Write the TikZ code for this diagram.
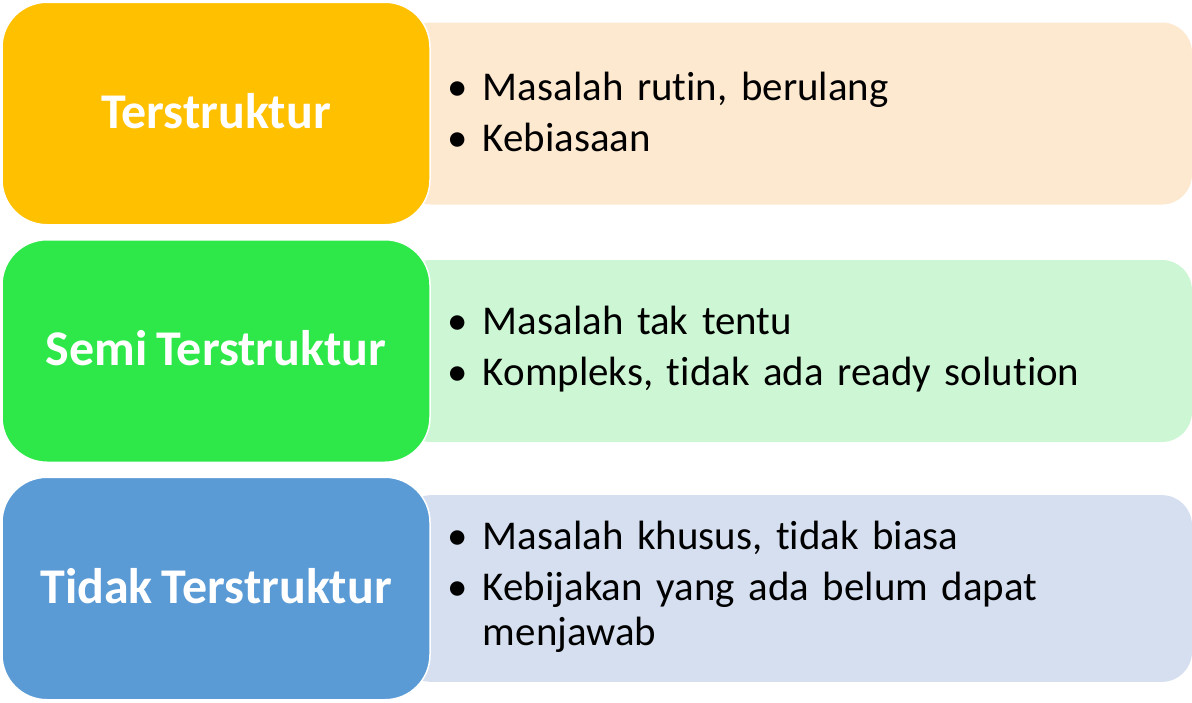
\documentclass[tikz,border=0pt]{standalone}
\usepackage{fontspec}
\setmainfont{Carlito}[RawFeature=-liga,WordSpace=0.8]
\usetikzlibrary{positioning,backgrounds}
\definecolor{KuningTua}{HTML}{FFC000}
\definecolor{HijauTua}{HTML}{2EE84A}
\definecolor{BiruTua}{HTML}{5B9BD5}
\definecolor{KuningMuda}{HTML}{FDE8D0}
\definecolor{HijauMuda}{HTML}{CDF7D4}
\definecolor{BiruMuda}{HTML}{D5DFEF}
\newcommand{\butir}[1]{\par\noindent\makebox[35pt][l]{\textbullet}%
  \parbox[t]{660pt}{\raggedright #1}}
\newcommand{\ujung}{\par\nointerlineskip\vbox to 26pt{}}

\begin{document}
\begin{tikzpicture}[
      x=1pt,y=-1pt,
      node distance=13.5pt,
      kategori/.style={draw=white,line width=1.5pt,rounded corners=45pt,
                       minimum width=428pt,minimum height=222.5pt,inner sep=0pt,
                       text depth=6pt,
                       text=white,font=\fontsize{50}{60}\selectfont\bfseries},
      uraian/.style={rounded corners=30pt,minimum width=791pt,minimum height=182pt,
                     inner xsep=47pt,text width=697pt,align=left,
                     font=\fontsize{40.9}{45}\selectfont\setlength{\parskip}{6pt}},
    ]
    \useasboundingbox (0,0) rectangle (1192,702);
    \node[kategori,fill=KuningTua] (ters) at (216,113.5) {Terstruktur};
    \node[kategori,fill=HijauTua,below=of ters] (semi) {Semi Terstruktur};
    \node[kategori,fill=BiruTua,below=of semi]  (tidak) {Tidak Terstruktur};

    \begin{scope}[on background layer]
      \node[uraian,fill=KuningMuda,right=-30pt of ters] (ciriters)
        {\butir{Masalah rutin, berulang}\butir{Kebiasaan}\ujung};
      \node[uraian,fill=HijauMuda,right=-30pt of semi] (cirisemi)
        {\butir{Masalah tak tentu}\butir{Kompleks, tidak ada ready solution}\ujung};
      \node[uraian,fill=BiruMuda,right=-30pt of tidak] (ciritidak)
        {\butir{Masalah khusus, tidak biasa}\butir{Kebijakan yang ada belum dapat menjawab}\ujung};
    \end{scope}
  \end{tikzpicture}
\end{document}
